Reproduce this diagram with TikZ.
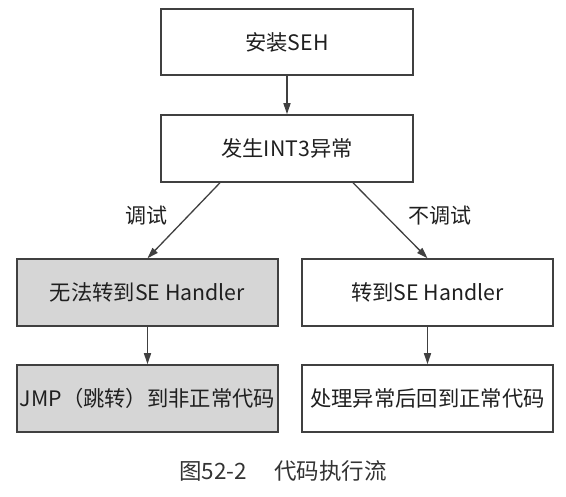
\documentclass[tikz,border=0pt]{standalone}
\usepackage{fontspec}
\setmainfont{Noto Sans CJK SC}
\usetikzlibrary{arrows.meta}
\definecolor{edge}{HTML}{404040}
\definecolor{boxgray}{HTML}{D6D6D6}
\tikzset{
  box/.style={draw=edge, line width=1.5pt, inner sep=0pt, font=\fontsize{21.3}{25}\selectfont, text=black!88},
  graybox/.style={box, fill=boxgray},
  arr/.style={draw=edge, line width=1.3pt, -{Triangle[length=11pt,width=7pt]}},
  lbl/.style={font=\fontsize{21}{25}\selectfont, text=black!88},
}
\begin{document}
\begin{tikzpicture}[x=1pt,y=-1pt]
\useasboundingbox (0,0) rectangle (566,497);
\node[box, minimum width=252pt, minimum height=66pt] (b1) at (287,42) {安装SEH};
\node[box, minimum width=252pt, minimum height=67pt] (b2) at (287,148.5) {发生INT3异常};
\node[graybox, minimum width=261pt, minimum height=67pt] (b3) at (147.5,292.5) {无法转到SE Handler};
\node[box, minimum width=251pt, minimum height=67pt] (b4) at (427.5,292.5) {转到SE Handler};
\node[graybox, minimum width=261pt, minimum height=67pt] (b5) at (147.5,398.5) {JMP（跳转）到非正常代码};
\node[box, minimum width=251pt, minimum height=67pt] (b6) at (427.5,398.5) {处理异常后回到正常代码};
\coordinate (sl) at ([xshift=-67pt]b2.south);
\coordinate (sr) at ([xshift=66pt]b2.south);
\draw[arr] (b1) -- (b2);
\draw[arr] (sl) -- (b3.north);
\draw[arr] (sr) -- (b4.north);
\draw[arr] (b3) -- (b5);
\draw[arr] (b4) -- (b6);
\node[lbl] (l1) at (146,216) {调试};
\node[lbl] (l2) at (440,216) {不调试};
\node[font=\fontsize{22.5}{26}\selectfont, text=black!80] (cap) at (283,471) {图52-2\hspace{1.2em}代码执行流};
\end{tikzpicture}
\end{document}
